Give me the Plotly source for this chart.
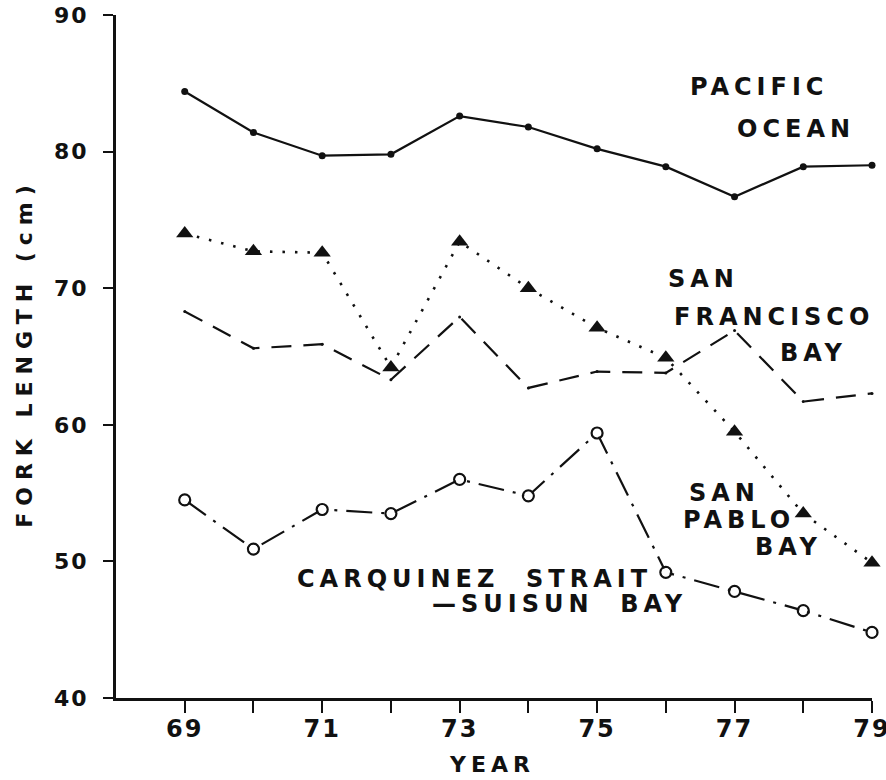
import plotly.graph_objects as go

# Mean fork length by year for each sampling area
years = [69, 70, 71, 72, 73, 74, 75, 76, 77, 78, 79]
pacific_ocean = [84.4, 81.4, 79.7, 79.8, 82.6, 81.8, 80.2, 78.9, 76.7, 78.9, 79.0]
san_francisco_bay = [68.3, 65.6, 65.9, 63.3, 67.9, 62.7, 63.9, 63.8, 66.9, 61.7, 62.3]
san_pablo_bay = [74.0, 72.7, 72.6, 64.2, 73.4, 70.0, 67.1, 64.9, 59.5, 53.5, 49.9]
carquinez_suisun = [54.5, 50.9, 53.8, 53.5, 56.0, 54.8, 59.4, 49.2, 47.8, 46.4, 44.8]

x_tick_labels = ["69", "", "71", "", "73", "", "75", "", "77", "", "79"]
y_ticks = [40, 50, 60, 70, 80, 90]

FONT = "DejaVu Sans"
INK = "#111111"


def spaced(text, px=5):
    return f'<span style="letter-spacing:{px}px">{text}</span>'


fig = go.Figure()

fig.add_trace(go.Scatter(
    x=years, y=pacific_ocean, mode="lines+markers",
    line=dict(color=INK, width=2.2, dash="solid"),
    marker=dict(symbol="circle", size=7, color=INK),
    cliponaxis=False, showlegend=False,
))
fig.add_trace(go.Scatter(
    x=years, y=san_francisco_bay, mode="lines+markers",
    line=dict(color=INK, width=2.2, dash="20px,12px"),
    marker=dict(symbol="circle", size=3, color=INK),
    cliponaxis=False, showlegend=False,
))
fig.add_trace(go.Scatter(
    x=years, y=san_pablo_bay, mode="lines+markers",
    line=dict(color=INK, width=2.6, dash="2.5px,10px"),
    marker=dict(symbol="triangle-up", size=15, color=INK),
    cliponaxis=False, showlegend=False,
))
fig.add_trace(go.Scatter(
    x=years, y=carquinez_suisun, mode="lines+markers",
    line=dict(color=INK, width=2.2, dash="26px,9px,3px,9px"),
    marker=dict(symbol="circle-open", size=11, color=INK,
                line=dict(width=2.2, color=INK)),
    cliponaxis=False, showlegend=False,
))
# white fill inside the open circles
fig.add_trace(go.Scatter(
    x=years, y=carquinez_suisun, mode="markers",
    marker=dict(symbol="circle", size=8, color="white"),
    cliponaxis=False, showlegend=False, hoverinfo="skip",
))

label_font = dict(family=FONT, size=24, color=INK, weight="bold")
labels = [
    ("PACIFIC", 77.36, 84.75),
    ("OCEAN", 77.9, 81.65),
    ("SAN", 76.55, 70.7),
    ("FRANCISCO", 77.58, 67.9),
    ("BAY", 78.15, 65.26),
    ("SAN", 76.86, 55.0),
    ("PABLO", 77.07, 53.03),
    ("BAY", 77.79, 51.05),
    ("CARQUINEZ  STRAIT", 73.22, 48.7),
    ("—SUISUN  BAY", 74.45, 46.85),
]
for text, lx, ly in labels:
    fig.add_annotation(x=lx, y=ly, xref="x", yref="y", text=spaced(text, 5),
                       showarrow=False, font=label_font,
                       xanchor="center", yanchor="middle")

# axis titles
fig.add_annotation(x=-0.122, y=0.505, xref="paper", yref="paper",
                   text=spaced("FORK LENGTH (cm)", 7), textangle=-90,
                   showarrow=False, font=dict(family=FONT, size=22, color=INK, weight="bold"),
                   xanchor="center", yanchor="middle")
fig.add_annotation(x=0.497, y=-0.098, xref="paper", yref="paper",
                   text=spaced("YEAR", 5),
                   showarrow=False, font=dict(family=FONT, size=22, color=INK, weight="bold"),
                   xanchor="center", yanchor="middle")

fig.update_layout(
    width=886, height=780,
    margin=dict(l=116, r=14, t=15, b=82, autoexpand=False),
    paper_bgcolor="white", plot_bgcolor="white",
    xaxis=dict(
        range=[68, 79], automargin=False,
        tickmode="array", tickvals=years,
        ticktext=[spaced(t, 2) if t else "" for t in x_tick_labels],
        ticks="outside", ticklen=12, tickwidth=2.2, tickcolor=INK,
        showline=True, linewidth=3, linecolor=INK,
        showgrid=False, zeroline=False,
        tickfont=dict(family=FONT, size=24, color=INK, weight="bold"),
        ticklabelstandoff=-5, ticklabeloverflow="allow",
    ),
    yaxis=dict(
        range=[40, 90], automargin=False,
        tickmode="array", tickvals=y_ticks,
        ticktext=[spaced(str(v), 2) for v in y_ticks],
        ticks="outside", ticklen=10, tickwidth=2.2, tickcolor=INK,
        showline=True, linewidth=3, linecolor=INK,
        showgrid=False, zeroline=False,
        tickfont=dict(family=FONT, size=22, color=INK, weight="bold"),
        ticklabelstandoff=10, ticklabeloverflow="allow",
    ),
)

fig.write_html("out.html")
